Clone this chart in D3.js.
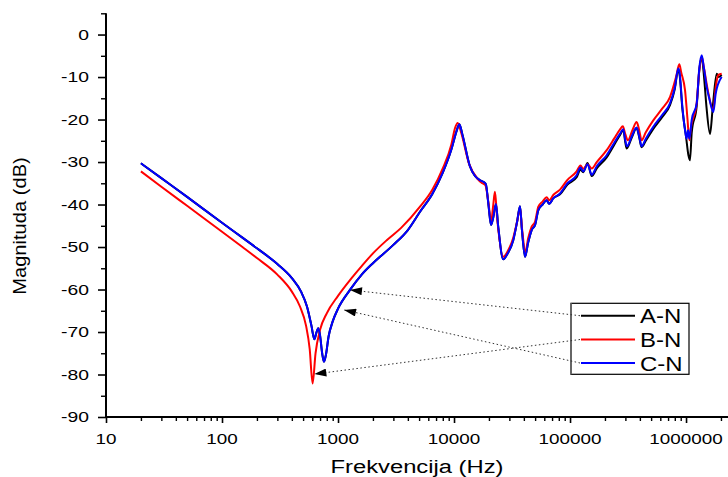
<!DOCTYPE html>
<html>
<head>
<meta charset="utf-8">
<script src="https://cdn.jsdelivr.net/npm/d3@7/dist/d3.min.js"></script>
<style>
  html, body { margin: 0; padding: 0; background: #fff; }
  svg { display: block; }
  text { font-family: "Liberation Sans", Arial, sans-serif; fill: #000; }
</style>
</head>
<body>
<svg id="chart" width="728" height="477"></svg>
<script>
// Frequency response of the three phase-to-neutral windings (magnitude in dB).
const seriesNames = ["A-N", "B-N", "C-N"];
const seriesColors = ["#000000", "#ff0000", "#0000ff"];

const freqA = [20, 30, 50, 100, 150, 200, 300, 400, 480, 540, 590, 625, 650, 676, 700, 730, 757, 785, 830, 900, 1000, 1268, 1600, 2000, 3000, 4000, 5090, 6500, 8000, 9500, 10500, 11120, 11800, 13750, 16750, 18000, 18800, 19800, 20840, 21800, 23000, 24000, 26600, 29000, 32400, 35000, 37070, 38500, 40930, 43500, 46700, 50000, 53300, 58000, 62900, 66000, 72000, 82000, 95000, 114000, 123000, 130000, 141600, 153800, 170000, 207000, 240000, 270000, 288000, 300000, 307700, 340000, 375000, 395000, 413700, 450000, 522000, 620000, 727000, 800000, 857000, 880000, 930000, 1000000, 1050000, 1080000, 1120000, 1236000, 1300000, 1365000, 1430000, 1500000, 1610000, 1700000, 1840000, 1900000, 2030000];
const dbA = [-30.3, -33.8, -38.2, -44.3, -47.8, -50.3, -54.0, -57.3, -60.5, -64.0, -68.5, -71.7, -70.2, -69.1, -70.8, -75.0, -77.0, -75.5, -71.0, -67.5, -64.5, -60.1, -56.5, -53.8, -49.5, -46.0, -41.7, -37.5, -32.5, -27.0, -22.8, -21.1, -23.5, -31.1, -34.3, -34.7, -35.2, -40.0, -44.8, -43.0, -39.9, -45.0, -52.9, -51.5, -48.4, -44.0, -40.4, -46.0, -52.3, -49.0, -46.0, -44.8, -41.3, -40.0, -39.0, -39.8, -38.5, -37.6, -35.3, -33.6, -31.8, -32.4, -30.2, -33.3, -31.5, -28.9, -26.0, -23.6, -22.5, -25.5, -26.8, -24.3, -22.0, -24.2, -26.5, -25.0, -22.2, -19.5, -16.6, -12.8, -8.2, -9.5, -17.5, -24.0, -28.5, -29.6, -23.0, -16.8, -8.5, -5.5, -10.0, -17.0, -23.4, -17.0, -9.2, -10.0, -9.5];

const freqB = [20, 30, 50, 100, 150, 200, 300, 400, 470, 530, 570, 604, 640, 700, 800, 1000, 1268, 1600, 2000, 2630, 3500, 5090, 6500, 8000, 9500, 10200, 10770, 11500, 13500, 16000, 17500, 18600, 19800, 20840, 21800, 22540, 23500, 26600, 29000, 32400, 35000, 37070, 38500, 41300, 43500, 46700, 50000, 53300, 58000, 62900, 66000, 72000, 82000, 95000, 114000, 123000, 130000, 141600, 153800, 170000, 207000, 240000, 270000, 285000, 300000, 315000, 345000, 375000, 395000, 413700, 450000, 522000, 620000, 727000, 820000, 875000, 910000, 980000, 1030000, 1067000, 1100000, 1236000, 1300000, 1365000, 1430000, 1550000, 1720000, 1800000, 1900000, 2030000];
const dbB = [-32.2, -35.8, -40.3, -46.4, -50.0, -52.6, -56.5, -60.5, -64.0, -68.5, -74.0, -82.1, -75.0, -69.5, -65.6, -61.5, -57.8, -54.5, -51.5, -48.4, -45.5, -40.5, -36.5, -31.5, -25.8, -22.0, -20.8, -23.0, -30.5, -34.0, -35.0, -35.4, -39.5, -44.1, -40.0, -37.0, -43.0, -52.3, -51.0, -47.8, -44.0, -40.9, -45.5, -51.1, -48.0, -45.2, -44.0, -40.5, -39.3, -38.3, -39.0, -37.7, -36.5, -34.2, -32.2, -30.8, -31.6, -30.5, -31.5, -30.0, -27.2, -24.5, -22.3, -21.6, -23.5, -24.9, -22.5, -20.6, -22.5, -24.9, -23.0, -20.2, -17.5, -14.7, -10.0, -7.0, -9.0, -13.1, -20.0, -24.9, -22.0, -16.0, -8.5, -5.2, -8.0, -13.5, -17.8, -12.5, -9.5, -9.2];

const freqC = [20, 30, 50, 100, 150, 200, 300, 400, 480, 540, 590, 625, 650, 676, 700, 730, 757, 785, 830, 900, 1000, 1268, 1600, 2000, 3000, 4000, 5090, 6500, 8000, 9500, 10500, 11120, 11800, 13750, 16750, 18000, 18800, 19800, 20840, 21800, 23000, 24000, 26600, 29000, 32400, 35000, 37070, 38500, 40930, 43500, 46700, 50000, 53300, 58000, 62900, 66000, 72000, 82000, 95000, 114000, 123000, 130000, 141600, 153800, 170000, 207000, 240000, 270000, 288000, 300000, 310000, 340000, 375000, 395000, 413700, 450000, 522000, 620000, 727000, 800000, 857000, 880000, 930000, 980000, 1012000, 1040000, 1070000, 1120000, 1236000, 1300000, 1365000, 1420000, 1507000, 1600000, 1720000, 1800000, 1840000, 1950000, 2030000];
const dbC = [-30.3, -33.8, -38.2, -44.3, -47.8, -50.3, -54.0, -57.3, -60.5, -64.0, -68.5, -71.7, -70.2, -69.1, -70.8, -75.0, -77.0, -75.5, -71.0, -67.5, -64.5, -60.1, -56.5, -53.8, -49.5, -46.0, -41.7, -37.5, -32.5, -27.0, -22.8, -21.1, -23.5, -31.1, -34.3, -34.7, -35.2, -40.0, -44.8, -43.0, -39.9, -45.0, -52.9, -51.5, -48.4, -44.0, -40.4, -46.0, -52.3, -49.0, -46.0, -44.8, -41.3, -40.0, -39.0, -39.8, -38.5, -37.4, -35.0, -33.1, -31.3, -32.2, -30.5, -33.0, -31.0, -28.4, -25.5, -23.3, -22.3, -25.0, -26.3, -24.0, -21.9, -24.0, -26.3, -24.5, -21.7, -19.0, -16.2, -12.5, -8.0, -9.0, -17.0, -22.5, -24.5, -22.5, -24.5, -20.0, -16.2, -8.0, -4.9, -7.5, -12.3, -15.5, -18.2, -14.0, -12.7, -10.8, -10.0];

// Axis ticks and labels
const xMajorTicks = [10, 100, 1000, 10000, 100000, 1000000];
const xTickLabels = ["10", "100", "1000", "10000", "100000", "1000000"];
const yMajorTicks = [0, -10, -20, -30, -40, -50, -60, -70, -80, -90];
const yTickLabels = ["0", "-10", "-20", "-30", "-40", "-50", "-60", "-70", "-80", "-90"];
const xTitle = "Frekvencija (Hz)";
const yTitle = "Magnituda (dB)";

// Annotation arrows: legend row -> point on the curve
const arrowSeries = [0, 2, 1];
const arrowFreq = [1268, 1127, 625];
const arrowDb = [-60.1, -64.8, -79.9];

const svg = d3.select("#chart");
const x = d3.scaleLog().domain([10, 2.3e6]).range([106, 728]);
const y = d3.scaleLinear().domain([-90, 5]).range([417, 13.3]);

// Stretch a text element horizontally (along its own baseline) and anchor it
function stretch(sel, k, anchor) {
  sel.each(function () {
    const t = d3.select(this);
    const w = this.getComputedTextLength();
    const x0 = +t.attr("x") || 0;
    const wk = w * k;
    t.attr("textLength", wk).attr("lengthAdjust", "spacingAndGlyphs")
     .attr("text-anchor", "start");
    if (anchor === "end") t.attr("x", x0 - wk);
    else if (anchor === "middle") t.attr("x", x0 - wk / 2);
  });
}

// Minor ticks
const xMinor = [];
for (let d = 10; d < 2.3e6; d *= 10) for (let m = 2; m <= 9; m++) if (d * m <= 2.3e6) xMinor.push(d * m);
const yMinor = d3.range(-85, 6, 10);

const axisG = svg.append("g");
axisG.append("g").attr("transform", "translate(0,417)")
  .call(d3.axisBottom(x).tickValues(xMajorTicks).tickSize(6).tickFormat(""))
  .call(g => g.select(".domain").remove())
  .call(g => g.selectAll("line").attr("stroke", "#000").attr("stroke-width", 1.6));
axisG.append("g").attr("transform", "translate(0,417)")
  .call(d3.axisBottom(x).tickValues(xMinor).tickSize(4).tickFormat(""))
  .call(g => g.select(".domain").remove())
  .call(g => g.selectAll("line").attr("stroke", "#000").attr("stroke-width", 1.4));
axisG.append("g").attr("transform", "translate(106,0)")
  .call(d3.axisLeft(y).tickValues(yMajorTicks).tickSize(8).tickFormat(""))
  .call(g => g.select(".domain").remove())
  .call(g => g.selectAll("line").attr("stroke", "#000").attr("stroke-width", 1.6));
axisG.append("g").attr("transform", "translate(106,0)")
  .call(d3.axisLeft(y).tickValues(yMinor).tickSize(5).tickFormat(""))
  .call(g => g.select(".domain").remove())
  .call(g => g.selectAll("line").attr("stroke", "#000").attr("stroke-width", 1.4));

// Axis lines
axisG.append("line").attr("x1", 106).attr("x2", 106).attr("y1", y(5)).attr("y2", 418)
  .attr("stroke", "#000").attr("stroke-width", 2);
axisG.append("line").attr("x1", 105).attr("x2", 728).attr("y1", 417).attr("y2", 417)
  .attr("stroke", "#000").attr("stroke-width", 2);

// Tick labels
svg.append("g").selectAll("text").data(xMajorTicks).join("text")
  .attr("x", d => x(d)).attr("y", 444).attr("font-size", 14.5)
  .text((d, i) => xTickLabels[i])
  .call(stretch, 1.3, "middle");
svg.append("g").selectAll("text").data(yMajorTicks).join("text")
  .attr("x", 89).attr("y", d => y(d) + 5.2).attr("font-size", 14.5)
  .text((d, i) => yTickLabels[i])
  .call(stretch, 1.33, "end");

// Axis titles
svg.append("text").attr("x", 417).attr("y", 473).attr("font-size", 18)
  .text(xTitle).call(stretch, 1.32, "middle");
svg.append("g").attr("transform", "translate(26,226) rotate(-90)")
  .append("text").attr("x", 0).attr("y", 0).attr("font-size", 17.5)
  .text(yTitle).call(stretch, 1.15, "middle");

// Curves
const line = d3.line().x(d => x(d[0])).y(d => y(d[1])).curve(d3.curveMonotoneX);
const seriesData = [
  freqA.map((f, i) => [f, dbA[i]]),
  freqB.map((f, i) => [f, dbB[i]]),
  freqC.map((f, i) => [f, dbC[i]])
];
svg.append("g").selectAll("path").data(seriesData).join("path")
  .attr("d", line).attr("fill", "none")
  .attr("stroke", (d, i) => seriesColors[i]).attr("stroke-width", 2)
  .attr("stroke-linejoin", "round");

// Legend
const legX = 571, legY = 303.3, legW = 118, legH = 71;
const rowY = [315.7, 339.5, 363];
const leg = svg.append("g");
leg.append("rect").attr("x", legX).attr("y", legY).attr("width", legW).attr("height", legH)
  .attr("fill", "#fff").attr("stroke", "#000").attr("stroke-width", 1.2);
leg.append("line").attr("x1", legX).attr("x2", legX).attr("y1", legY).attr("y2", legY + legH)
  .attr("stroke", "#666").attr("stroke-width", 2);
seriesNames.forEach((name, i) => {
  leg.append("line").attr("x1", 581).attr("x2", 635).attr("y1", rowY[i]).attr("y2", rowY[i])
    .attr("stroke", seriesColors[i]).attr("stroke-width", 2);
  leg.append("text").attr("x", 640).attr("y", rowY[i] + 7.6).attr("font-size", 21)
    .text(name).call(stretch, 1.14, "start");
});

// Annotation arrows
const defs = svg.append("defs");
defs.append("marker").attr("id", "arrowhead")
  .attr("viewBox", "0 0 12 8").attr("refX", 12).attr("refY", 4)
  .attr("markerWidth", 13).attr("markerHeight", 8).attr("markerUnits", "userSpaceOnUse")
  .attr("orient", "auto")
  .append("path").attr("d", "M0,0 L12,4 L0,8 Z").attr("fill", "#000");
arrowSeries.forEach((s, i) => {
  svg.append("line")
    .attr("x1", 580).attr("y1", rowY[s])
    .attr("x2", x(arrowFreq[i])).attr("y2", y(arrowDb[i]))
    .attr("stroke", "#333").attr("stroke-width", 1)
    .attr("stroke-dasharray", "1.5,2.5")
    .attr("marker-end", "url(#arrowhead)");
});
</script>
</body>
</html>
